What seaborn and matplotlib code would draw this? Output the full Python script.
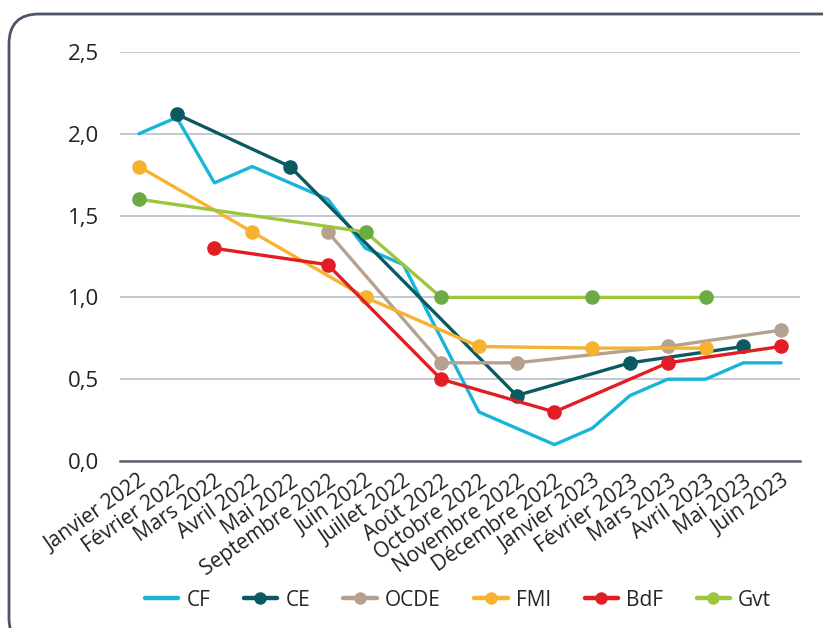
import numpy as np
import pandas as pd
import seaborn as sns
import matplotlib
matplotlib.use("Agg")
import matplotlib.pyplot as plt
from matplotlib.lines import Line2D
from matplotlib.patches import FancyBboxPatch
from matplotlib.transforms import IdentityTransform, ScaledTranslation
from matplotlib.ticker import FixedLocator, FuncFormatter

nan = np.nan
months = ["Janvier 2022", "Février 2022", "Mars 2022", "Avril 2022", "Mai 2022",
          "Septembre 2022", "Juin 2022", "Juillet 2022", "Août 2022", "Octobre 2022",
          "Novembre 2022", "Décembre 2022", "Janvier 2023", "Février 2023",
          "Mars 2023", "Avril 2023", "Mai 2023", "Juin 2023"]

cf = [2.0, 2.1, 1.7, 1.8, 1.7, 1.6, 1.3, 1.2, 0.75, 0.3, 0.2, 0.1, 0.2, 0.4, 0.5, 0.5, 0.6, 0.6]
ce = [nan, 2.12, nan, nan, 1.8, nan, nan, nan, nan, nan, 0.4, nan, nan, 0.6, nan, nan, 0.7, nan]
ocde = [nan, nan, nan, nan, nan, 1.4, nan, nan, 0.6, nan, 0.6, nan, nan, nan, 0.7, nan, nan, 0.8]
fmi = [1.8, nan, nan, 1.4, nan, nan, 1.0, nan, nan, 0.7, nan, nan, 0.69, nan, nan, 0.69, nan, nan]
bdf = [nan, nan, 1.3, nan, nan, 1.2, nan, nan, 0.5, nan, nan, 0.3, nan, nan, 0.6, nan, nan, 0.7]
gvt = [1.6, nan, nan, nan, nan, nan, 1.4, nan, 1.0, nan, nan, nan, 1.0, nan, nan, 1.0, nan, nan]

series_names = ["CF", "CE", "OCDE", "FMI", "BdF", "Gvt"]
series_values = [cf, ce, ocde, fmi, bdf, gvt]
line_colors = ["#19b5d9", "#0b5961", "#b5a190", "#f7b22f", "#e31d24", "#9cc63c"]
marker_colors = [None, "#0b5961", "#b5a190", "#f7b22f", "#e31d24", "#6aab46"]
yticks = [0.0, 0.5, 1.0, 1.5, 2.0, 2.5]

sns.set_theme(style="white")
plt.rcParams["font.family"] = ["Open Sans", "DejaVu Sans"]

fig = plt.figure(figsize=(8.23, 6.28), dpi=100)
ax = fig.add_axes([120 / 823, 1 - 461 / 628, 680 / 823, 409 / 628])

x_idx = np.arange(len(months))
for name, vals, lc, mc in zip(series_names, series_values, line_colors, marker_colors):
    df = pd.DataFrame({"x": x_idx, "y": vals}).dropna()
    kw = dict(color=lc, linewidth=2.4, ax=ax, legend=False, zorder=3)
    if mc is not None:
        kw.update(marker="o", markersize=10.5, markerfacecolor=mc,
                  markeredgecolor=mc, markeredgewidth=0)
    sns.lineplot(data=df, x="x", y="y", **kw)

ax.set_xlim(-0.5, len(months) - 0.5)
ax.set_ylim(0, 2.5)
ax.set_xlabel("")
ax.set_ylabel("")

ax.set_yticks(yticks)
ax.yaxis.set_major_formatter(FuncFormatter(lambda v, p: f"{v:.1f}".replace(".", ",")))
ax.tick_params(axis="y", length=0, pad=15, labelsize=16, labelcolor="#222222")
ax.yaxis.grid(True, color="#b9bdc8", linewidth=1.2)
ax.xaxis.grid(False)

ax.set_xticks(x_idx)
ax.set_xticklabels(months, rotation=35, ha="right", rotation_mode="anchor",
                   fontsize=15, color="#222222")
offset = ScaledTranslation(-5 / 100, 0, fig.dpi_scale_trans)
for lab in ax.get_xticklabels():
    lab.set_transform(lab.get_transform() + offset)
ax.xaxis.set_minor_locator(FixedLocator(np.arange(-0.5, len(months), 1.0)))
ax.tick_params(axis="x", which="major", length=0, pad=7)
ax.tick_params(axis="x", which="minor", length=5, width=1.6, color="#5b6170", direction="out")

for s in ["top", "right", "left"]:
    ax.spines[s].set_visible(False)
ax.spines["bottom"].set_color("#5b6170")
ax.spines["bottom"].set_linewidth(1.8)
ax.set_axisbelow(True)

handles = []
for name, lc in zip(series_names, line_colors):
    if name == "CF":
        handles.append(Line2D([], [], color=lc, linewidth=3.2, solid_capstyle="round"))
    else:
        handles.append(Line2D([], [], color=lc, linewidth=3.2, marker="o", markersize=8,
                              markerfacecolor=lc, markeredgecolor=lc,
                              solid_capstyle="round"))
fig.legend(handles, series_names, loc="center", bbox_to_anchor=(458 / 823, 1 - 600 / 628),
           ncol=6, frameon=False, fontsize=15, handlelength=1.6, handletextpad=0.4,
           columnspacing=1.6)

frame = FancyBboxPatch((9, -20), 850, 628 - 14 + 20,
                       boxstyle="round,pad=0,rounding_size=30",
                       transform=IdentityTransform(), fill=False,
                       edgecolor="#4b5565", linewidth=2.0, clip_on=False)
fig.patches.append(frame)

fig.savefig("out.png", dpi=100)
